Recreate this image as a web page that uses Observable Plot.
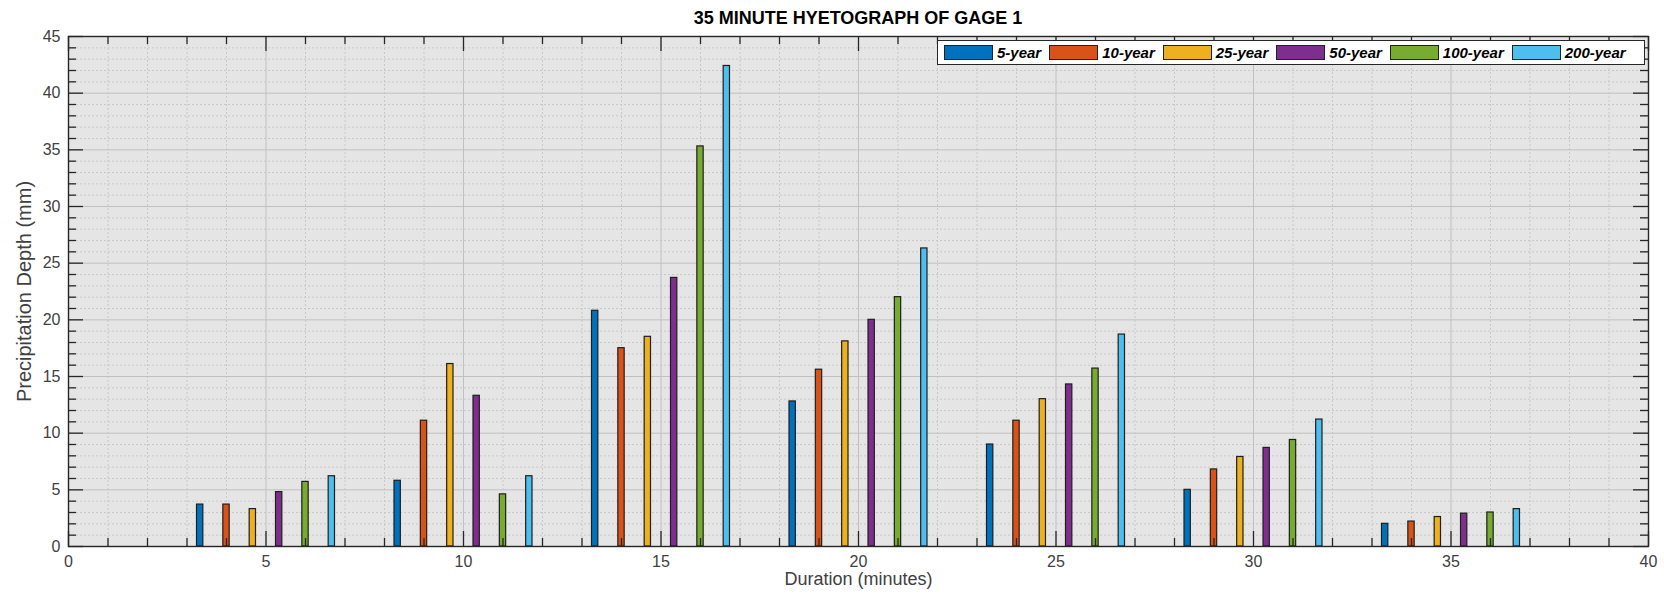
<!DOCTYPE html>
<html>
<head>
<meta charset="utf-8">
<script src="https://cdn.jsdelivr.net/npm/d3@7"></script>
<script src="https://cdn.jsdelivr.net/npm/@observablehq/plot@0.6"></script>
<style>
  body { margin: 0; background: #fff; font-family: "Liberation Sans", Arial, sans-serif; }
  #wrap { position: relative; width: 1664px; height: 604px; overflow: hidden; }
  #title { position: relative; z-index: 2; height: 20px; box-sizing: border-box; padding-top: 9px; padding-left: 52px; text-align: center;
           font-weight: bold; font-size: 18px; line-height: 19px; color: #000; overflow: visible; white-space: nowrap; }
  #legend { position: absolute; left: 937px; top: 40px; width: 708px; height: 25px; box-sizing: border-box;
            background: #fff; border: 1px solid #262626; display: flex; align-items: center; padding-left: 6px; }
  .sw { width: 49px; height: 15px; border: 1px solid #222; margin-right: 4px; box-sizing: border-box; }
  .lb { font-weight: bold; font-style: italic; font-size: 15px; color: #000; margin-right: 8px; white-space: nowrap; }
  svg { display: block; }
</style>
</head>
<body>
<div id="wrap">
  <div id="title"></div>
  <div id="chart"></div>
  <div id="legend"></div>
</div>
<script>
// ---- data ----
const titleText = "35 MINUTE HYETOGRAPH OF GAGE 1";
const xLabel = "Duration (minutes)";
const yLabel = "Precipitation Depth (mm)";
const durations = [5, 10, 15, 20, 25, 30, 35];
const seriesNames = ["5-year", "10-year", "25-year", "50-year", "100-year", "200-year"];
const seriesColors = ["#0072BD", "#D95319", "#EDB120", "#7E2F8E", "#77AC30", "#4DBEEE"];
const depth5yr   = [3.7, 5.8, 20.8, 12.8, 9.0, 5.0, 2.0];
const depth10yr  = [3.7, 11.1, 17.5, 15.6, 11.1, 6.8, 2.2];
const depth25yr  = [3.3, 16.1, 18.5, 18.1, 13.0, 7.9, 2.6];
const depth50yr  = [4.8, 13.3, 23.7, 20.0, 14.3, 8.7, 2.9];
const depth100yr = [5.7, 4.6, 35.3, 22.0, 15.7, 9.4, 3.0];
const depth200yr = [6.2, 6.2, 42.4, 26.3, 18.7, 11.2, 3.3];
const xTicks = [0, 5, 10, 15, 20, 25, 30, 35, 40];
const yTicks = [0, 5, 10, 15, 20, 25, 30, 35, 40, 45];

// ---- build table ----
const seriesValues = [depth5yr, depth10yr, depth25yr, depth50yr, depth100yr, depth200yr];
const rows = durations.flatMap((d, j) =>
  seriesNames.map((s, i) => ({ duration: d, series: s, idx: i, depth: seriesValues[i][j] })));
const groupStep = 2 / 3;   // spacing between bars within a group (x units)
const barHalf = 0.08;      // half bar width (x units)
const center = r => r.duration + (r.idx - (seriesNames.length - 1) / 2) * groupStep;

const xMinor = d3.range(0, 41).filter(v => v % 5 !== 0);
const yMinor = d3.range(0, 46).filter(v => v % 5 !== 0);

const W = 1664, H = 584, mL = 68, mR = 16, mT = 16, mB = 58;
const plotH = H - mT - mB, plotW = W - mL - mR;
const minorLen = 8, majorLen = 15;
const tickColor = "#262626";

document.getElementById("title").textContent = titleText;

const chart = Plot.plot({
  width: W, height: H,
  marginLeft: mL, marginRight: mR, marginTop: mT, marginBottom: mB,
  x: { domain: [0, 40] },
  y: { domain: [0, 45] },
  color: { domain: seriesNames, range: seriesColors },
  style: { fontFamily: "'Liberation Sans', Arial, sans-serif", fontSize: "16px", color: "#404040", background: "transparent" },
  marks: [
    Plot.frame({ fill: "#e5e5e5", stroke: "none" }),
    Plot.ruleX(xMinor, { stroke: "#c8c8c8", strokeDasharray: "2,2" }),
    Plot.ruleY(yMinor, { stroke: "#c8c8c8", strokeDasharray: "2,2" }),
    Plot.ruleX(xTicks, { stroke: "#c0c0c0" }),
    Plot.ruleY(yTicks, { stroke: "#c0c0c0" }),
    Plot.rect(rows, {
      x1: r => center(r) - barHalf, x2: r => center(r) + barHalf,
      y1: 0, y2: "depth", fill: "series", stroke: "#1e1e1e", strokeWidth: 1.2
    }),
    // inward ticks on all four sides
    Plot.ruleX(xMinor, { insetTop: plotH - minorLen, stroke: tickColor, strokeWidth: 1.3 }),
    Plot.ruleX(xMinor, { insetBottom: plotH - minorLen, stroke: tickColor, strokeWidth: 1.3 }),
    Plot.ruleX(xTicks, { insetTop: plotH - majorLen, stroke: tickColor, strokeWidth: 1.3 }),
    Plot.ruleX(xTicks, { insetBottom: plotH - majorLen, stroke: tickColor, strokeWidth: 1.3 }),
    Plot.ruleY(yMinor, { insetRight: plotW - minorLen, stroke: tickColor, strokeWidth: 1.3 }),
    Plot.ruleY(yMinor, { insetLeft: plotW - minorLen, stroke: tickColor, strokeWidth: 1.3 }),
    Plot.ruleY(yTicks, { insetRight: plotW - majorLen, stroke: tickColor, strokeWidth: 1.3 }),
    Plot.ruleY(yTicks, { insetLeft: plotW - majorLen, stroke: tickColor, strokeWidth: 1.3 }),
    Plot.frame({ stroke: tickColor, strokeWidth: 1.4 }),
    Plot.axisX(xTicks, { tickSize: 0, tickPadding: 9, label: null, fontSize: 16 }),
    Plot.axisY(yTicks, { tickSize: 0, tickPadding: 8, label: null, fontSize: 16 }),
    Plot.text([xLabel], { text: d => d, frameAnchor: "bottom", dy: 38, fontSize: 18, fill: "#404040" }),
    Plot.text([yLabel], { text: d => d, frameAnchor: "left", textAnchor: "middle", dx: -44, rotate: -90, fontSize: 20, fill: "#404040" })
  ]
});
document.getElementById("chart").appendChild(chart);

// legend (inside the axes, top right)
const legend = document.getElementById("legend");
seriesNames.forEach((s, i) => {
  const sw = document.createElement("div");
  sw.className = "sw";
  sw.style.background = seriesColors[i];
  const lb = document.createElement("span");
  lb.className = "lb";
  lb.textContent = s;
  legend.appendChild(sw);
  legend.appendChild(lb);
});
</script>
</body>
</html>
